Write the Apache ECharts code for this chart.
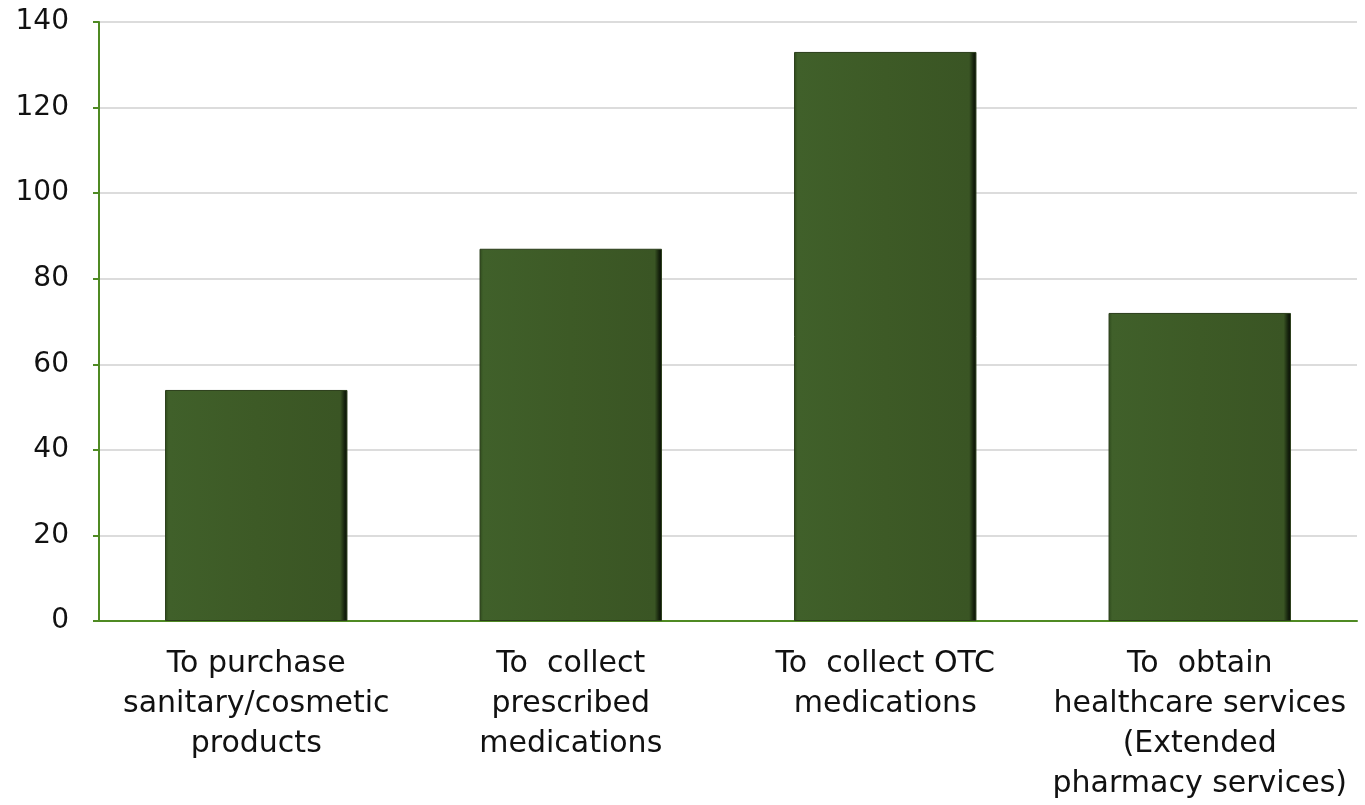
<!DOCTYPE html>
<html>
<head>
<meta charset="utf-8">
<script src="https://cdn.jsdelivr.net/npm/echarts@6/dist/echarts.min.js"></script>
<style>
html,body{margin:0;padding:0;background:#fff;}
#chart{width:1365px;height:805px;}
</style>
</head>
<body>
<div id="chart"></div>
<script>
const categories = [
  "To purchase\nsanitary/cosmetic\nproducts",
  "To  collect\nprescribed\nmedications",
  "To  collect OTC\nmedications",
  "To  obtain\nhealthcare services\n(Extended\npharmacy services)"
];
const values = [54, 87, 133, 72];
const yTicks = { min: 0, max: 140, interval: 20 };

const chart = echarts.init(document.getElementById('chart'));
chart.setOption({
  animation: false,
  backgroundColor: '#ffffff',
  grid: { left: 99, right: 8, top: 22, bottom: 184, containLabel: false },
  xAxis: {
    type: 'category',
    data: categories,
    axisLine: { show: true, lineStyle: { color: '#4f8a23', width: 2 } },
    axisTick: { show: false },
    axisLabel: {
      interval: 0,
      margin: 23,
      color: '#111',
      fontFamily: 'DejaVu Sans, sans-serif',
      fontSize: 30,
      lineHeight: 40,
      align: 'center'
    }
  },
  yAxis: {
    type: 'value',
    min: yTicks.min, max: yTicks.max, interval: yTicks.interval,
    axisLine: { show: true, lineStyle: { color: '#4f8a23', width: 2 } },
    axisTick: { show: true, inside: false, length: 6, lineStyle: { color: '#4f8a23', width: 2 } },
    splitLine: { show: true, lineStyle: { color: '#d0d0d0', width: 1.5 } },
    axisLabel: {
      margin: 30,
      color: '#111',
      fontFamily: 'DejaVu Sans, sans-serif',
      fontSize: 28
    }
  },
  series: [{
    type: 'bar',
    data: values,
    barWidth: '58%',
    itemStyle: {
      color: {
        type: 'linear', x: 0, y: 0, x2: 1, y2: 0,
        colorStops: [
          { offset: 0, color: '#2e4a1c' },
          { offset: 0.02, color: '#40602a' },
          { offset: 0.5, color: '#3d5a26' },
          { offset: 0.96, color: '#3a5524' },
          { offset: 0.985, color: '#14200c' },
          { offset: 1, color: '#0a0f06' }
        ]
      },
      borderColor: '#2a3d1a',
      borderWidth: 1
    }
  }]
});
</script>
</body>
</html>
